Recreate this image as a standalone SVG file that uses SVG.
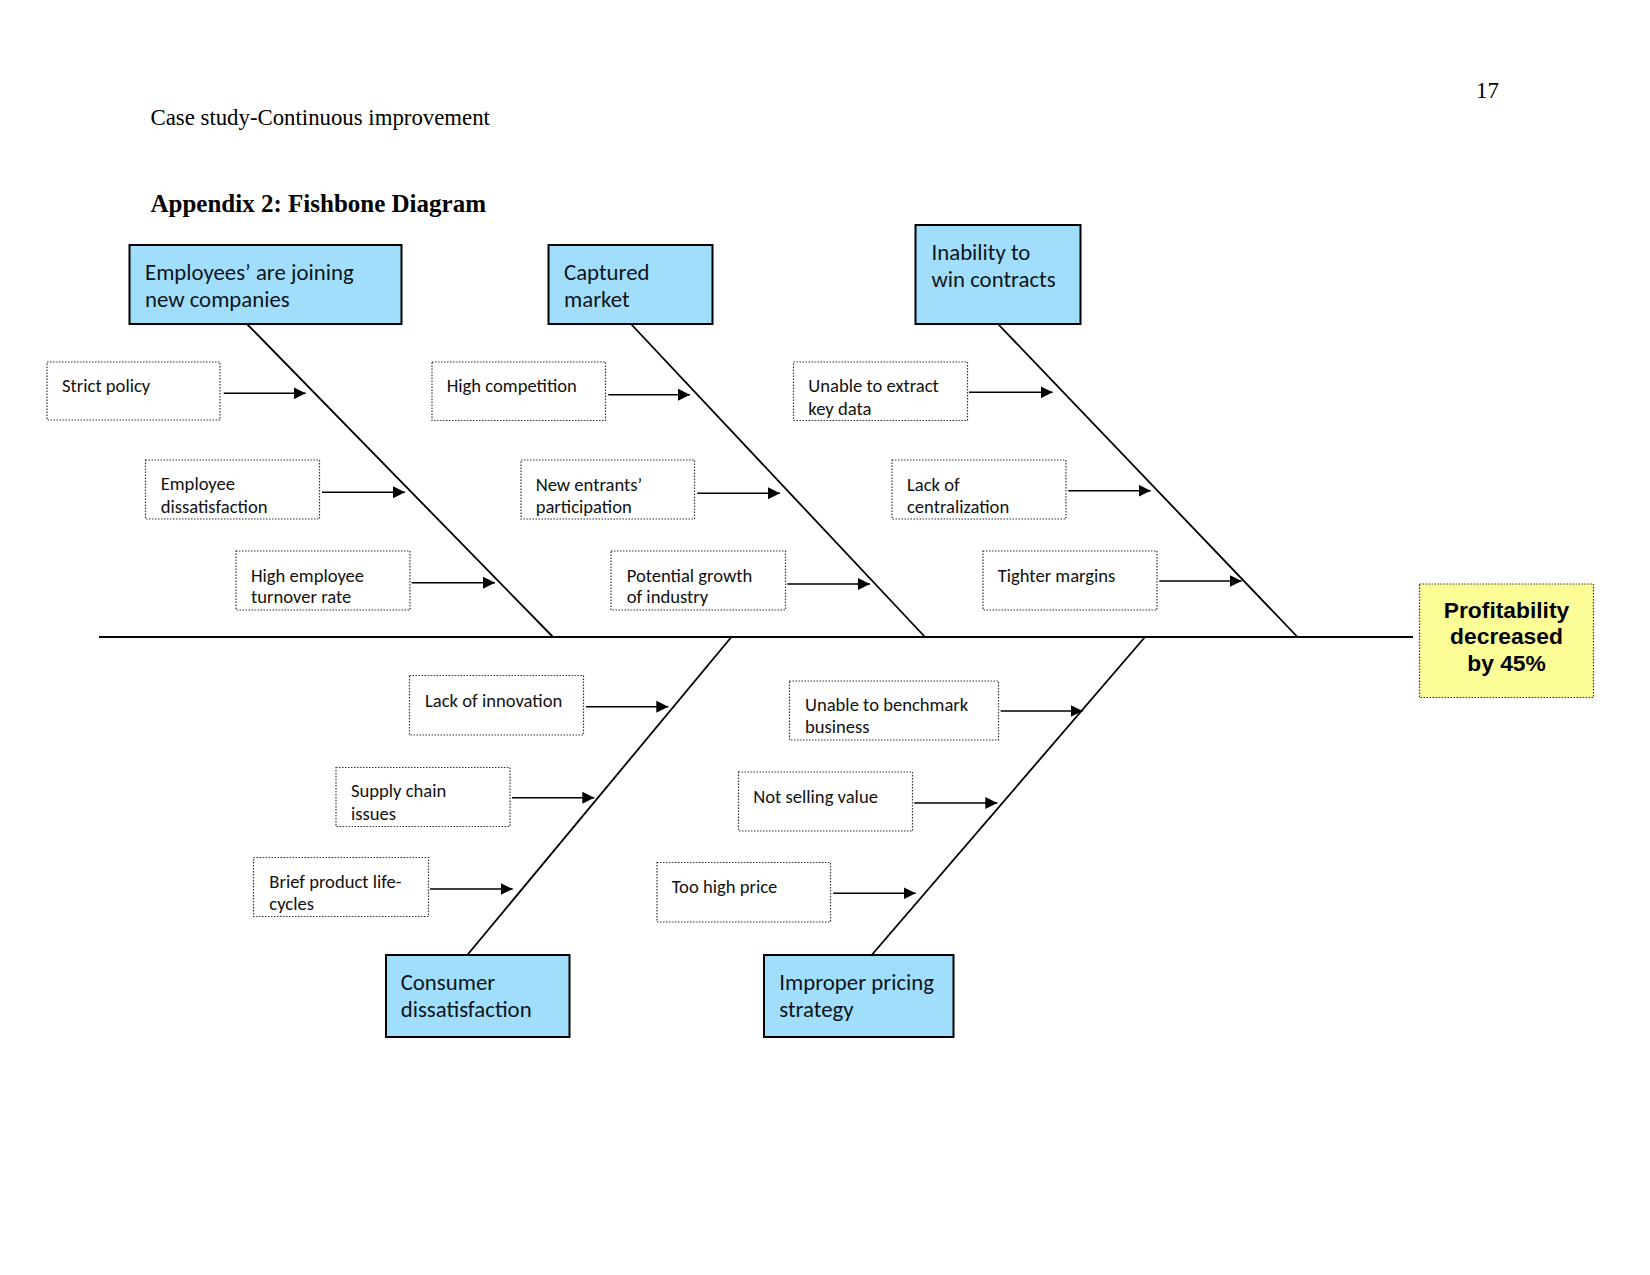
<svg xmlns="http://www.w3.org/2000/svg" width="1650" height="1275" viewBox="0 0 1650 1275">
<defs>
<style>
.hdr{font-family:"Liberation Serif","Times New Roman",serif;font-size:22.8px;fill:#000}
.title{font-family:"Liberation Serif","Times New Roman",serif;font-size:25px;font-weight:bold;fill:#000}
.cat rect{fill:#a0defb;stroke:#000;stroke-width:2}
.cat text{font-family:Carlito,Lato,"Noto Sans",sans-serif;font-size:22.8px;fill:#0f1420}
.cause rect{fill:#fff;stroke:#333;stroke-width:1.2;stroke-dasharray:1.5 1.5}
.cause text{font-family:Carlito,Lato,"Noto Sans",sans-serif;font-size:18.6px;fill:#111}
.effect rect{fill:#fdfd98;stroke:#333;stroke-width:1.2;stroke-dasharray:1.5 1.5}
.effect text{font-family:"Liberation Sans",Arial,sans-serif;font-size:22.8px;font-weight:bold;fill:#000;text-anchor:middle}
.bone{stroke:#000;stroke-width:1.8;fill:none}
.arr{stroke:#000;stroke-width:1.4;fill:none;marker-end:url(#ah)}
</style>
<marker id="ah" markerUnits="userSpaceOnUse" markerWidth="13" markerHeight="12" refX="12" refY="6" orient="auto">
<path d="M0,0 L12,6 L0,12 z" fill="#000"/>
</marker>
</defs>
<rect width="1650" height="1275" fill="#fff"/>
<text class="hdr" x="150.5" y="125">Case study-Continuous improvement</text>
<text class="hdr" x="1476" y="98">17</text>
<text class="title" x="150.5" y="211.5">Appendix 2: Fishbone Diagram</text>

<g id="connectors">
<line class="bone" x1="99" y1="637" x2="1413" y2="637"/>
<line class="bone" x1="247" y1="324" x2="553" y2="637"/>
<line class="bone" x1="631" y1="324" x2="925" y2="637"/>
<line class="bone" x1="998" y1="324" x2="1297.5" y2="637"/>
<line class="bone" x1="467.3" y1="955" x2="731.4" y2="637"/>
<line class="bone" x1="871.7" y1="955" x2="1145" y2="637"/>
<line class="arr" x1="223.7" y1="393.3" x2="305.7" y2="393.3"/>
<line class="arr" x1="322" y1="492.3" x2="405" y2="492.3"/>
<line class="arr" x1="411.7" y1="582.7" x2="495" y2="582.7"/>
<line class="arr" x1="608.3" y1="394.7" x2="690" y2="394.7"/>
<line class="arr" x1="697.3" y1="493.3" x2="780" y2="493.3"/>
<line class="arr" x1="787.3" y1="584" x2="870" y2="584"/>
<line class="arr" x1="969" y1="392.3" x2="1052.7" y2="392.3"/>
<line class="arr" x1="1068.3" y1="490.7" x2="1150.7" y2="490.7"/>
<line class="arr" x1="1159.3" y1="581" x2="1241.7" y2="581"/>
<line class="arr" x1="586" y1="706.7" x2="668.3" y2="706.7"/>
<line class="arr" x1="512" y1="797.7" x2="594.3" y2="797.7"/>
<line class="arr" x1="430" y1="889" x2="512.7" y2="889"/>
<line class="arr" x1="1000.7" y1="711" x2="1082.7" y2="711"/>
<line class="arr" x1="914.3" y1="803" x2="997.3" y2="803"/>
<line class="arr" x1="833.3" y1="893.3" x2="915.7" y2="893.3"/>
</g>

<g id="cat-employees" class="cat"><rect x="129.5" y="245" width="272" height="79"/><text x="145" y="280">Employees’ are joining</text><text x="145" y="307">new companies</text></g>
<g id="cat-captured" class="cat"><rect x="548.5" y="245" width="164" height="79"/><text x="564" y="280">Captured</text><text x="564" y="307">market</text></g>
<g id="cat-inability" class="cat"><rect x="915.5" y="225" width="165" height="99"/><text x="931.5" y="259.5">Inability to</text><text x="931.5" y="287">win contracts</text></g>
<g id="cat-consumer" class="cat"><rect x="386" y="955" width="183.5" height="82"/><text x="400.7" y="990">Consumer</text><text x="400.7" y="1017.3">dissatisfaction</text></g>
<g id="cat-pricing" class="cat"><rect x="764" y="955" width="189.5" height="82"/><text x="779.3" y="990">Improper pricing</text><text x="779.3" y="1017.3">strategy</text></g>

<g id="c-strict" class="cause"><rect x="47" y="362" width="173" height="58"/><text x="62" y="392">Strict policy</text></g>
<g id="c-empdis" class="cause"><rect x="145.5" y="460" width="174" height="59"/><text x="160.7" y="490">Employee</text><text x="160.7" y="512.7">dissatisfaction</text></g>
<g id="c-turnover" class="cause"><rect x="236" y="551" width="174" height="59"/><text x="251" y="581.7">High employee</text><text x="251" y="602.7">turnover rate</text></g>
<g id="c-highcomp" class="cause"><rect x="432" y="362" width="173.5" height="58.5"/><text x="446.7" y="391.7">High competition</text></g>
<g id="c-entrants" class="cause"><rect x="521" y="460" width="173.5" height="59"/><text x="535.7" y="490.7">New entrants’</text><text x="535.7" y="513.3">participation</text></g>
<g id="c-growth" class="cause"><rect x="611" y="551" width="174.5" height="59"/><text x="626.7" y="581.7">Potential growth</text><text x="626.7" y="603.3">of industry</text></g>
<g id="c-extract" class="cause"><rect x="793.5" y="362" width="174" height="58.5"/><text x="808.3" y="391.7">Unable to extract</text><text x="808.3" y="415">key data</text></g>
<g id="c-central" class="cause"><rect x="892" y="460" width="174" height="59"/><text x="907" y="490.7">Lack of</text><text x="907" y="513.3">centralization</text></g>
<g id="c-margins" class="cause"><rect x="983" y="551" width="174" height="59"/><text x="997.7" y="581.7">Tighter margins</text></g>
<g id="c-innovation" class="cause"><rect x="409.5" y="675.5" width="174" height="59.5"/><text x="425" y="706.7">Lack of innovation</text></g>
<g id="c-supply" class="cause"><rect x="336" y="767.5" width="174" height="59"/><text x="351" y="797.3">Supply chain</text><text x="351" y="820">issues</text></g>
<g id="c-brief" class="cause"><rect x="253.5" y="857.5" width="175" height="59"/><text x="269.3" y="888.3">Brief product life-</text><text x="269.3" y="910">cycles</text></g>
<g id="c-benchmark" class="cause"><rect x="789.5" y="681" width="209" height="59"/><text x="805" y="710.7">Unable to benchmark</text><text x="805" y="733.3">business</text></g>
<g id="c-selling" class="cause"><rect x="738.5" y="772" width="174" height="59"/><text x="753.3" y="802.7">Not selling value</text></g>
<g id="c-price" class="cause"><rect x="657" y="862.5" width="173.5" height="59.5"/><text x="671.7" y="892.7">Too high price</text></g>

<g id="effect" class="effect"><rect x="1419.5" y="584" width="174" height="113.5"/><text x="1506.5" y="617.5">Profitability</text><text x="1506.5" y="644">decreased</text><text x="1506.5" y="670.5">by 45%</text></g>
</svg>
